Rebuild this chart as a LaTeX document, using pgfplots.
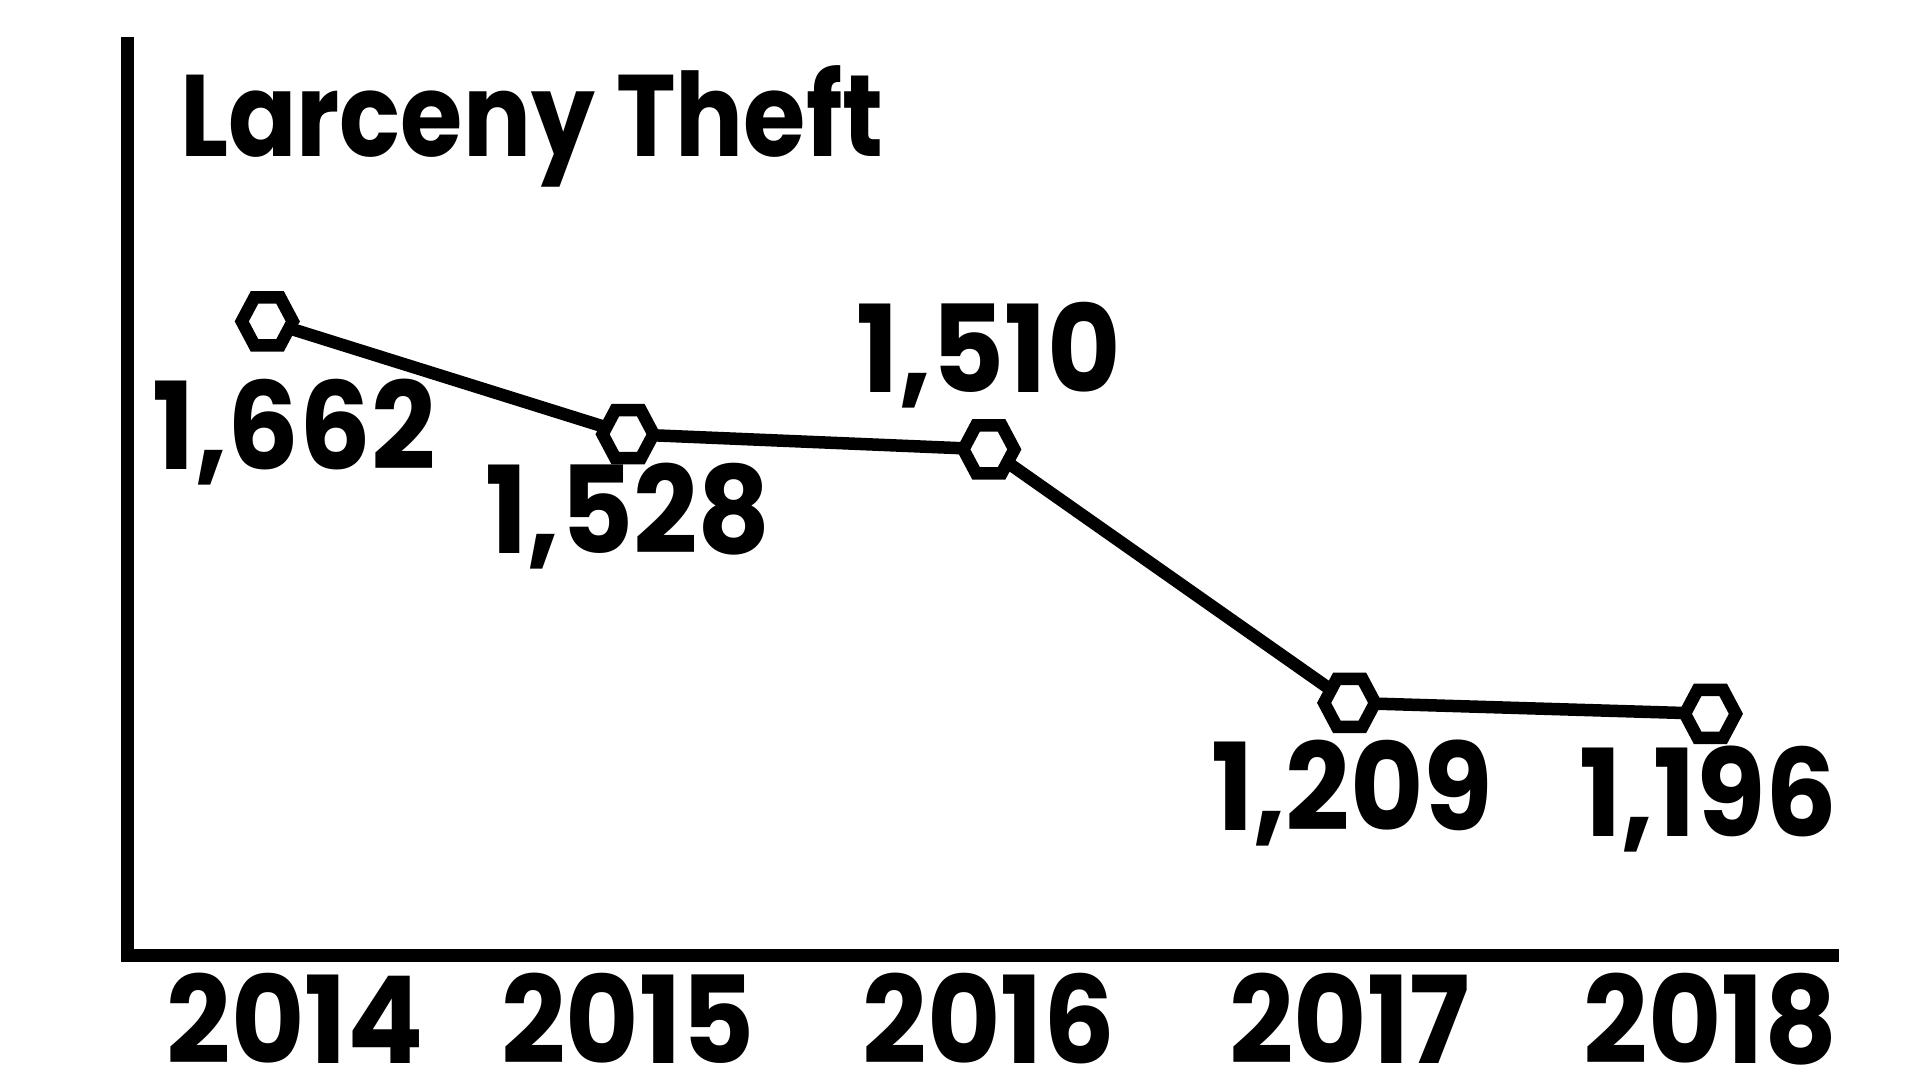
\documentclass[border=0pt]{standalone}
\usepackage{fontspec}
\setmainfont{Poppins}
\newfontfamily\numfam{Poppins}[FakeStretch=0.93]
\newfontfamily\titlefam{Poppins}[FakeStretch=0.87]
\usepackage{pgfplots}
\pgfplotsset{compat=1.18}

% flat-topped hexagon used as the point marker
\pgfdeclareplotmark{hex}{%
  \pgfpathmoveto{\pgfpoint{2.55mm}{0mm}}%
  \pgfpathlineto{\pgfpoint{1.275mm}{2.4mm}}%
  \pgfpathlineto{\pgfpoint{-1.275mm}{2.4mm}}%
  \pgfpathlineto{\pgfpoint{-2.55mm}{0mm}}%
  \pgfpathlineto{\pgfpoint{-1.275mm}{-2.4mm}}%
  \pgfpathlineto{\pgfpoint{1.275mm}{-2.4mm}}%
  \pgfpathclose
  \pgfusepathqfillstroke}

\newcommand{\numfont}{\numfam\fontsize{34.5}{40}\selectfont\bfseries}
\newcommand{\titlefont}{\titlefam\fontsize{33}{38}\selectfont\bfseries}

\begin{document}
\begin{tikzpicture}
\useasboundingbox (-12.73mm,-12.45mm) rectangle (179.27mm,95.55mm);
\begin{axis}[
    at={(0,0)}, anchor=south west,
    scale only axis,
    width=170.575mm, height=91.2mm,
    xmin=2013.612, xmax=2018.340,
    ymin=909, ymax=1992,
    axis x line=bottom, axis y line=left,
    axis line style={-, line width=1.25mm, line cap=rect},
    xtick={2014,2015,2016,2017,2018},
    xticklabels={\hspace*{5.6mm}2014,2015,2016,2017,2018},
    ytick=\empty,
    major tick length=0pt,
    xticklabel style={font=\numfont, anchor=base, yshift=-10.75mm, inner sep=0pt, text depth=0pt},
    clip=false,
]
\addplot[black, line width=1.25mm, line join=miter, mark=hex,
    mark options={fill=white, draw=black, line width=1.25mm, line join=miter}]
    coordinates {(2014,1662) (2015,1528) (2016,1510) (2017,1209) (2018,1196)};

\node[anchor=base, inner sep=0pt, font=\numfont, xshift=2.7mm, yshift=-14.86mm] at (axis cs:2014,1662) {1,662};
\node[anchor=base, inner sep=0pt, font=\numfont, yshift=-11.88mm] at (axis cs:2015,1528) {1,528};
\node[anchor=base, inner sep=0pt, font=\numfont, yshift=5.64mm] at (axis cs:2016,1510) {1,510};
\node[anchor=base, inner sep=0pt, font=\numfont, xshift=0.25mm, yshift=-12.81mm] at (axis cs:2017,1209) {1,209};
\node[anchor=base, inner sep=0pt, font=\numfont, xshift=-0.2mm, yshift=-12.22mm] at (axis cs:2018,1196) {1,196};
\end{axis}
\node[anchor=base west, inner sep=0pt, font=\titlefont] at (5.2mm,79.88mm) {Larceny Theft};
\end{tikzpicture}
\end{document}
